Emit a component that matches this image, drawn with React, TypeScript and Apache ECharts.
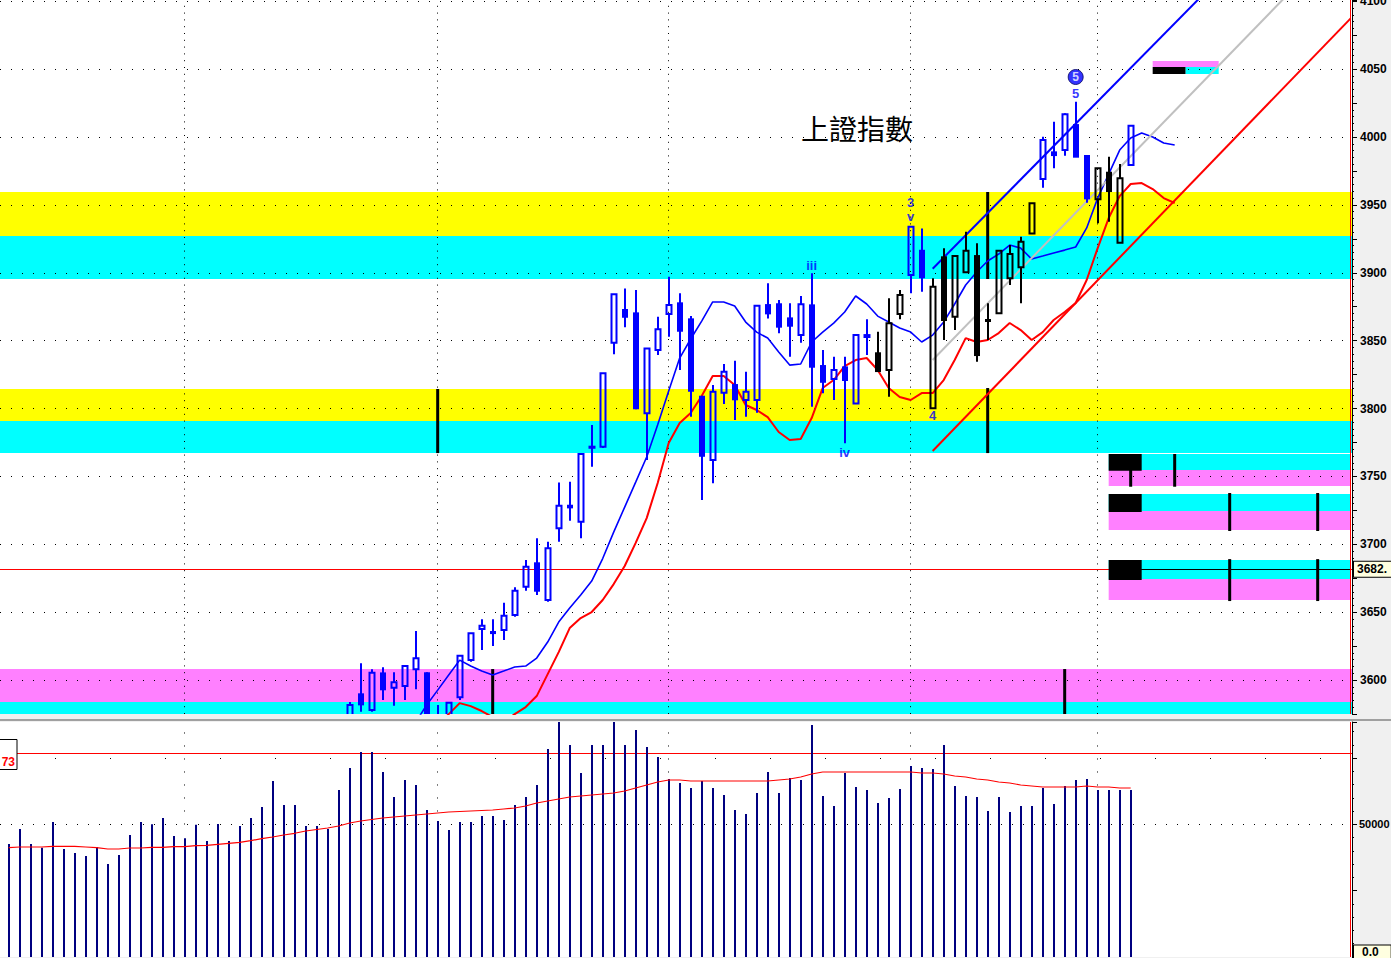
import React, { useEffect, useRef } from 'react';
import * as echarts from 'echarts';

// ---- axis ranges ----
const X_MIN = -0.79;
const X_MAX = 122.12;
const P_MIN = 3575;
const P_MAX = 4100.92;
const V_MAX = 88679;

// ---- price candles (bars 31..102) ----
const CANDLE_START = 31;
const opens = [3566, 3589.5, 3577.9, 3604.9, 3594.3, 3595.6, 3607.9, 3605.0, 3562.0, 3568.0, 3587.3, 3614.7, 3637.6, 3635.4, 3636.8, 3647.9, 3668.7, 3686.0, 3658.9, 3711.8, 3728.4, 3716.6, 3771.1, 3771.9, 3848.5, 3872.6, 3870.1, 3796.5, 3843.1, 3869.6, 3877.5, 3865.7, 3808.7, 3762.1, 3811.6, 3817.3, 3806.3, 3806.3, 3876.2, 3876.8, 3866.4, 3854.1, 3876.0, 3831.3, 3821.7, 3830.3, 3803.8, 3852.7, 3840.7, 3828.4, 3869.6, 3898.3, 3916.2, 3800.2, 3911.4, 3867.6, 3900.3, 3912.3, 3865.2, 3870.1, 3895.9, 3904.0, 3929.0, 3969.0, 3988.7, 3990.4, 4008.8, 3986.0, 3954.1, 3973.7, 3922.1, 3979.4];
const closes = [3581.6, 3582.1, 3605.4, 3593.2, 3598.3, 3610.3, 3616.0, 3565.0, 3570.0, 3583.3, 3617.9, 3634.4, 3640.0, 3634.6, 3647.4, 3665.8, 3683.5, 3665.8, 3697.0, 3728.4, 3727.2, 3766.5, 3771.9, 3825.9, 3884.1, 3867.6, 3800.2, 3844.3, 3858.4, 3876.2, 3857.3, 3813.1, 3765.2, 3812.4, 3827.1, 3806.8, 3812.4, 3875.7, 3870.1, 3860.3, 3861.0, 3876.8, 3830.8, 3819.7, 3828.4, 3821.0, 3854.1, 3854.1, 3827.6, 3862.8, 3883.6, 3933.9, 3896.7, 3889.7, 3865.2, 3912.3, 3916.2, 3839.4, 3864.5, 3916.2, 3913.8, 3922.9, 3951.2, 3997.8, 3986.7, 4016.7, 3985.5, 3954.8, 3976.9, 3960.2, 3969.6, 4008.3];
const lows = [3560, 3576.7, 3576.7, 3585.3, 3581.1, 3585.3, 3593.2, 3555.0, 3555.0, 3560.0, 3585.3, 3613.5, 3622.1, 3625.0, 3629.5, 3646.7, 3665.8, 3662.6, 3657.7, 3701.9, 3717.4, 3704.4, 3757.2, 3770.9, 3839.9, 3859.8, 3799.4, 3762.1, 3839.4, 3852.9, 3828.4, 3794.0, 3732.6, 3744.9, 3803.3, 3791.5, 3794.0, 3796.9, 3866.4, 3855.4, 3838.2, 3848.5, 3801.3, 3811.2, 3806.3, 3774.4, 3803.6, 3839.4, 3827.1, 3808.7, 3865.7, 3884.9, 3886.0, 3800.0, 3850.5, 3857.8, 3899.8, 3834.5, 3850.5, 3869.6, 3891.0, 3877.5, 3928.5, 3962.6, 3976.9, 3986.2, 3985.3, 3951.6, 3936.4, 3937.6, 3921.9, 3979.0];
const highs = [3583.8, 3612.3, 3607.9, 3609.4, 3605.7, 3611.0, 3636.1, 3605.7, 3581.6, 3583.8, 3618.4, 3634.6, 3644.7, 3644.7, 3656.9, 3668.3, 3688.4, 3704.4, 3701.9, 3745.6, 3746.1, 3767.0, 3787.9, 3826.2, 3884.3, 3888.5, 3887.3, 3844.6, 3867.6, 3897.1, 3884.9, 3868.1, 3809.2, 3817.3, 3832.8, 3835.2, 3827.1, 3876.2, 3892.2, 3879.9, 3877.5, 3882.9, 3899.6, 3843.1, 3838.2, 3838.2, 3854.2, 3865.7, 3856.6, 3881.2, 3887.3, 3934.4, 3932.7, 3895.9, 3918.0, 3913.1, 3930.2, 3921.7, 3877.5, 3916.8, 3920.5, 3926.6, 3951.4, 4000.2, 4011.3, 4017.5, 4026.0, 3986.4, 3977.2, 3985.5, 3980.1, 4008.8];
// 0 = blue candle, 1 = black candle
const candleColors = [0, 0, 0, 0, 0, 0, 0, 0, 0, 0, 0, 0, 0, 0, 0, 0, 0, 0, 0, 0, 0, 0, 0, 0, 0, 0, 0, 0, 0, 0, 0, 0, 0, 0, 0, 0, 0, 0, 0, 0, 0, 0, 0, 0, 0, 0, 0, 0, 1, 1, 1, 0, 0, 1, 1, 1, 1, 1, 1, 1, 1, 1, 1, 0, 0, 0, 0, 0, 1, 1, 1, 0];

// ---- moving averages (shifted forward, bars 37..106 and 39..106) ----
const MA_FAST_START = 37;
const maFast = [3569, 3581.6, 3592.6, 3603.7, 3614.7, 3610.3, 3606.6, 3603.7, 3606.6, 3609.6, 3610.3, 3616.2, 3628, 3642.7, 3653, 3662.6, 3672.9, 3689.5, 3709, 3727.4, 3745.8, 3764.3, 3788, 3812.9, 3837.2, 3851.2, 3864.4, 3878.5, 3878.5, 3875.5, 3863.7, 3856.3, 3851.9, 3841.6, 3832, 3832.8, 3849, 3856.3, 3862.9, 3871.1, 3882.9, 3877, 3868.1, 3863.7, 3859.3, 3856.3, 3849, 3854.1, 3863.7, 3877, 3891, 3900.6, 3908.7, 3913.8, 3920.4, 3918.2, 3910.1, 3912.3, 3914.6, 3916.7, 3919, 3933, 3955, 3972.7, 3990.4, 3999.3, 4003, 4000, 3995.6, 3994.1];
const MA_SLOW_START = 39;
const maSlow = [3566.8, 3574.9, 3583, 3580.8, 3577.2, 3572.7, 3569, 3574.9, 3580.1, 3588.2, 3604.4, 3620.6, 3638.3, 3645.7, 3650.1, 3659, 3670.7, 3684, 3701, 3719.3, 3745.1, 3774.6, 3789.3, 3796.7, 3809.2, 3824, 3824, 3817.3, 3802.6, 3798.9, 3793.7, 3782.7, 3776.8, 3777.5, 3793, 3815.1, 3821, 3831.3, 3835.7, 3837.2, 3828.4, 3815.1, 3808.5, 3806.3, 3811.4, 3811.4, 3821, 3835.7, 3851.9, 3849, 3850.5, 3855.6, 3863, 3857.8, 3850.5, 3856.3, 3865.2, 3871.1, 3877.7, 3894.7, 3918.2, 3940.3, 3956.5, 3965.4, 3966.1, 3961.7, 3955, 3951.4];

// ---- volume (bars 0..102) ----
const volumes = [42646, 48307, 42646, 41250, 50949, 40759, 39250, 38117, 41514, 35098, 38494, 46043, 50949, 50081, 52458, 45665, 44797, 49930, 43778, 50194, 43778, 49439, 52458, 56610, 66422, 57365, 57365, 49439, 49439, 48307, 63026, 71329, 77367, 77367, 69819, 60384, 66800, 64913, 55478, 51326, 47930, 50949, 50949, 53213, 53213, 51704, 57365, 60384, 64913, 78499, 88690, 80009, 69442, 80009, 80009, 88690, 80009, 85670, 79254, 75480, 67177, 65668, 63781, 66422, 63781, 61139, 55478, 53968, 61894, 69819, 61894, 67555, 66800, 87557, 60761, 56987, 69442, 64158, 63026, 58120, 60007, 63403, 72083, 71329, 70951, 80009, 64535, 60761, 60384, 55100, 60384, 54723, 56987, 56987, 63781, 57742, 64535, 66800, 67177, 63026, 63026, 63026, 63026];
const volumeMA = [41250, 41514, 41514, 41514, 41778, 41778, 41778, 41514, 41250, 40759, 40759, 41137, 41137, 41400, 41400, 41627, 41627, 42004, 42155, 42533, 42910, 43288, 43891, 44646, 45288, 46043, 46684, 47552, 48118, 48685, 49439, 50571, 51326, 51893, 52459, 52836, 53213, 53591, 53968, 54346, 54723, 54912, 55100, 55289, 55478, 55856, 56233, 56988, 58120, 58874, 59629, 60384, 60761, 61139, 61516, 61894, 62648, 63781, 64913, 66045, 66800, 66800, 66422, 66422, 66422, 66422, 66422, 66422, 66422, 66422, 66800, 67177, 67932, 69064, 69819, 69819, 69819, 69819, 69819, 69819, 69819, 69819, 69819, 69442, 69442, 69064, 68309, 67932, 67177, 66800, 66045, 65668, 64913, 64535, 64158, 64158, 64158, 64158, 64535, 64158, 64158, 63781, 63781];
const volumeLevel = 76900;
const volumeLevelLabel = '73';
const volumeTicks = [0, 25000, 50000, 75000];
const lastVolumeLabel = '0.0';
const lastVolumeLabelAt = 1900;

// ---- grid / annotation data ----
const priceGridLevels = [3600, 3650, 3700, 3750, 3800, 3850, 3900, 3950, 4000, 4050, 4100];
const monthBars = [16, 39, 60, 82, 99];
const lastPrice = 3681.7;
const lastPriceLabel = '3682.';
const cursorBar = 122;
const BAND_COLORS = ['#ffff00', '#00ffff', '#ff80ff', '#000000'];
// [priceFrom, priceTo, barFrom, barTo, colorIndex]
const bands = [
  [3959.5, 3927.1, X_MIN, X_MAX, 0],
  [3927.1, 3895.4, X_MIN, X_MAX, 1],
  [3814.4, 3790.8, X_MIN, X_MAX, 0],
  [3790.8, 3767.2, X_MIN, X_MAX, 1],
  [3608.1, 3583.8, X_MIN, X_MAX, 2],
  [3583.8, 3560.0, X_MIN, X_MAX, 1],
  [3766.5, 3754.7, 100, cursorBar, 1],
  [3754.7, 3742.9, 100, cursorBar, 2],
  [3766.5, 3754.2, 100, 103, 3],
  [3737.0, 3724.5, 100, cursorBar, 1],
  [3724.5, 3710.5, 100, cursorBar, 2],
  [3737.0, 3723.8, 100, 103, 3],
  [3688.4, 3674.4, 100, cursorBar, 1],
  [3674.4, 3658.9, 100, cursorBar, 2],
  [3688.4, 3673.7, 100, 103, 3],
  [4056.0, 4051.6, 104, 110, 2],
  [4051.6, 4046.4, 104, 107, 3],
  [4051.6, 4046.4, 107, 110, 1],
];
// [bar, priceFrom, priceTo]
const markers = [
  [39, 3814.4, 3767.2],
  [44, 3608.1, 3560],
  [89, 3959.5, 3895.4],
  [89, 3815.1, 3767.2],
  [96, 3608.1, 3560],
  [102, 3766.5, 3742.4],
  [106, 3766.5, 3742.4],
  [111, 3737.8, 3709.8],
  [119, 3737.8, 3709.8],
  [111, 3689.1, 3658.2],
  [119, 3689.1, 3658.2],
];
const channelUpper = [[84, 3903], [112, 4133]];
const channelMid = [[84, 3835.8], [120, 4136]];
const channelLower = [[84, 3768.7], [122, 4087.4]];
const waveLabels = [
  { bar: 73, price: 3905.7, text: 'iii' },
  { bar: 76, price: 3767.9, text: 'iv' },
  { bar: 82, price: 3952.1, text: '3' },
  { bar: 82, price: 3941.8, text: 'v' },
  { bar: 84, price: 3795.2, text: '4' },
  { bar: 97, price: 4031.7, text: '5' },
];
const circledWave = { bar: 97, price: 4044.2, text: '5' };

function buildOption() {
  const candleData = opens.map((o, k) => [CANDLE_START + k, o, closes[k], lows[k], highs[k], candleColors[k]]);
  const clampRect = (cs: any, x1: number, y1: number, x2: number, y2: number) => {
    const left = Math.max(Math.min(x1, x2), cs.x);
    const right = Math.min(Math.max(x1, x2), cs.x + cs.width);
    const top = Math.max(Math.min(y1, y2), cs.y);
    const bottom = Math.min(Math.max(y1, y2), cs.y + cs.height);
    return { x: left, y: top, width: Math.max(right - left, 0), height: Math.max(bottom - top, 0) };
  };
  const font = 'Liberation Sans';
  const yAxisBase = {
    type: 'value', position: 'right',
    axisLine: { show: true, onZero: false, lineStyle: { color: '#000', width: 1 } },
    axisTick: { show: true, length: 5, lineStyle: { color: '#000' } },
    minorTick: { show: true, splitNumber: 5, length: 2, lineStyle: { color: '#000' } },
    splitLine: { show: false },
  };
  return {
    animation: false,
    backgroundColor: '#f0f0f0',
    title: {
      text: '上證指數',
      left: 801,
      top: 114,
      padding: 0,
      textStyle: { fontSize: 28, fontWeight: 'normal', color: '#000', fontFamily: 'Noto Sans CJK TC' },
    },
    grid: [
      { left: 0, top: 0, width: 1352, height: 714, show: true, backgroundColor: '#ffffff', borderWidth: 0, containLabel: false, outerBoundsMode: 'none' },
      { left: 0, top: 722, width: 1352, height: 235, show: true, backgroundColor: '#ffffff', borderWidth: 0, containLabel: false, outerBoundsMode: 'none' },
    ],
    xAxis: [
      { type: 'value', gridIndex: 0, min: X_MIN, max: X_MAX, show: false },
      { type: 'value', gridIndex: 1, min: X_MIN, max: X_MAX, show: false },
    ],
    yAxis: [
      {
        ...yAxisBase, gridIndex: 0, min: P_MIN, max: P_MAX, interval: 25,
        axisLabel: {
          margin: 8, color: '#000', fontSize: 12, fontWeight: 'bold', fontFamily: font,
          formatter: (v: number) => (Math.abs(v % 50) < 1e-6 ? String(v) : ''),
        },
      },
      {
        ...yAxisBase, gridIndex: 1, min: 0, max: V_MAX, interval: 25000,
        axisLabel: {
          margin: 7, color: '#000', fontSize: 11, fontWeight: 'bold', fontFamily: font,
          formatter: (v: number) => (v === volumeTicks[2] ? String(v) : ''),
        },
      },
    ],
    graphic: [
      { type: 'rect', z: 100, shape: { x: 0, y: 719, width: 1391, height: 2 }, style: { fill: '#a0a0a0' } },
      { type: 'rect', z: 100, shape: { x: -2, y: 739.5, width: 19, height: 30 }, style: { fill: '#ffffff', stroke: '#000', lineWidth: 1 } },
      { type: 'text', z: 101, x: 15, y: 762, style: { text: volumeLevelLabel, align: 'right', verticalAlign: 'middle', fill: '#ff0000', font: 'bold 12px "Liberation Sans"' } },
    ],
    series: [
      // dotted price grid + month lines
      {
        type: 'line', xAxisIndex: 0, yAxisIndex: 0, data: [], z: 1, silent: true,
        markLine: {
          silent: true, symbol: ['none', 'none'], animation: false, label: { show: false },
          lineStyle: { color: '#000', width: 1, type: [1, 10] },
          data: [
            ...priceGridLevels.map((p) => ({ yAxis: p })),
            ...monthBars.map((b) => ({ xAxis: b, lineStyle: { color: '#000', width: 1, type: [1, 5.8] } })),
          ],
        },
      },
      // colour bands and boxes
      {
        type: 'custom', xAxisIndex: 0, yAxisIndex: 0, z: 2, silent: true, data: bands,
        renderItem: (params: any, api: any) => {
          const cs = params.coordSys;
          const p1 = api.coord([api.value(2), api.value(0)]);
          const p2 = api.coord([api.value(3), api.value(1)]);
          return { type: 'rect', shape: clampRect(cs, p1[0], p1[1], p2[0], p2[1]), style: { fill: BAND_COLORS[api.value(4)] } };
        },
      },
      // black time markers + price line
      {
        type: 'custom', xAxisIndex: 0, yAxisIndex: 0, z: 3, silent: true, data: markers,
        renderItem: (params: any, api: any) => {
          const cs = params.coordSys;
          const p1 = api.coord([api.value(0), api.value(1)]);
          const p2 = api.coord([api.value(0), api.value(2)]);
          return { type: 'rect', shape: clampRect(cs, p1[0] - 1.5, p1[1], p1[0] + 1.5, p2[1]), style: { fill: '#000' } };
        },
        markLine: {
          silent: true, symbol: ['none', 'none'], animation: false,
          data: [
            {
              yAxis: lastPrice, lineStyle: { color: '#ff0000', width: 1, type: 'solid' },
              label: {
                show: true, position: 'end', distance: 2, formatter: lastPriceLabel, color: '#000',
                fontSize: 12, fontWeight: 'bold', fontFamily: font, backgroundColor: '#ffffe0',
                borderColor: '#000', borderWidth: 1, padding: [2, 8, 1, 3],
              },
            },
            [
              { coord: [100, lastPrice], lineStyle: { color: '#000', width: 1, type: 'solid' }, label: { show: false } },
              { coord: [cursorBar, lastPrice] },
            ],
            { xAxis: cursorBar, lineStyle: { color: '#ff0000', width: 1, type: 'solid' }, label: { show: false } },
          ],
        },
      },
      // moving averages
      {
        type: 'line', xAxisIndex: 0, yAxisIndex: 0, z: 5, symbol: 'none', silent: true,
        data: maFast.map((v, k) => [MA_FAST_START + k, v]),
        lineStyle: { color: '#0000ff', width: 1.6 },
      },
      {
        type: 'line', xAxisIndex: 0, yAxisIndex: 0, z: 5, symbol: 'none', silent: true,
        data: maSlow.map((v, k) => [MA_SLOW_START + k, v]),
        lineStyle: { color: '#ff0000', width: 2 },
      },
      // channel
      {
        type: 'line', xAxisIndex: 0, yAxisIndex: 0, z: 6, symbol: 'none', silent: true,
        data: channelMid, lineStyle: { color: '#c0c0c0', width: 2 },
      },
      {
        type: 'line', xAxisIndex: 0, yAxisIndex: 0, z: 6, symbol: 'none', silent: true,
        data: channelUpper, lineStyle: { color: '#0000ff', width: 2 },
      },
      {
        type: 'line', xAxisIndex: 0, yAxisIndex: 0, z: 6, symbol: 'none', silent: true,
        data: channelLower, lineStyle: { color: '#ff0000', width: 2 },
      },
      // candles
      {
        type: 'custom', xAxisIndex: 0, yAxisIndex: 0, z: 10, silent: true, clip: true, data: candleData,
        renderItem: (params: any, api: any) => {
          const x = api.value(0);
          const o = api.value(1), c = api.value(2), l = api.value(3), h = api.value(4);
          const col = api.value(5) === 1 ? '#000000' : '#0000ff';
          const pO = api.coord([x, o]);
          const px = Math.round(pO[0]);
          const yO = pO[1];
          const yC = api.coord([x, c])[1];
          const yL = api.coord([x, l])[1];
          const yH = api.coord([x, h])[1];
          const top = Math.min(yO, yC);
          const bot = Math.max(yO, yC);
          const children: any[] = [
            { type: 'line', shape: { x1: px, y1: yH, x2: px, y2: top }, style: { stroke: col, lineWidth: 2 } },
            { type: 'line', shape: { x1: px, y1: bot, x2: px, y2: yL }, style: { stroke: col, lineWidth: 2 } },
          ];
          if (c > o) {
            children.push({ type: 'rect', shape: { x: px - 2.5, y: top, width: 5, height: Math.max(bot - top, 1) }, style: { fill: 'none', stroke: col, lineWidth: 2 } });
          } else {
            children.push({ type: 'rect', shape: { x: px - 3, y: top - 1, width: 6, height: Math.max(bot - top, 1) + 2 }, style: { fill: col } });
          }
          return { type: 'group', children };
        },
      },
      // wave labels
      {
        type: 'scatter', xAxisIndex: 0, yAxisIndex: 0, z: 11, silent: true, symbolSize: 1,
        itemStyle: { color: 'rgba(0,0,0,0)' },
        data: waveLabels.map((w) => ({ value: [w.bar, w.price], label: { formatter: w.text } })),
        label: { show: true, position: 'inside', color: '#0000ff', fontSize: 13, fontWeight: 'bold', fontFamily: font },
      },
      {
        type: 'scatter', xAxisIndex: 0, yAxisIndex: 0, z: 11, silent: true, symbol: 'circle', symbolSize: 15,
        itemStyle: { color: '#0000ff', borderColor: '#000060', borderWidth: 1 },
        data: [{ value: [circledWave.bar, circledWave.price] }],
        label: { show: true, position: 'inside', formatter: circledWave.text, color: '#ffffff', fontSize: 12, fontWeight: 'bold', fontFamily: font },
      },
      // volume bars
      {
        type: 'custom', xAxisIndex: 1, yAxisIndex: 1, z: 5, silent: true, clip: true,
        data: volumes.map((v, i) => [i, v]),
        renderItem: (params: any, api: any) => {
          const cs = params.coordSys;
          const p0 = api.coord([api.value(0), 0]);
          const p1 = api.coord([api.value(0), api.value(1)]);
          const px = Math.round(p0[0]);
          return { type: 'rect', shape: clampRect(cs, px - 1, p1[1], px + 1, p0[1]), style: { fill: '#000080' } };
        },
      },
      {
        type: 'line', xAxisIndex: 1, yAxisIndex: 1, z: 6, symbol: 'none', silent: true,
        data: volumeMA.map((v, i) => [i, v]),
        lineStyle: { color: '#ff0000', width: 1.2 },
      },
      {
        type: 'line', xAxisIndex: 1, yAxisIndex: 1, data: [], z: 4, silent: true,
        markLine: {
          silent: true, symbol: ['none', 'none'], animation: false, label: { show: false },
          data: [
            { yAxis: volumeTicks[2], lineStyle: { color: '#000', width: 1, type: [1, 10] } },
            { yAxis: volumeTicks[3], lineStyle: { color: '#000', width: 1, type: [1, 54] } },
            ...monthBars.map((b) => [
              { coord: [b, volumeTicks[2]], lineStyle: { color: '#000', width: 1, type: [1, 12] } },
              { coord: [b, V_MAX] },
            ]),
            { yAxis: volumeLevel, lineStyle: { color: '#ff0000', width: 1, type: 'solid' } },
            { xAxis: cursorBar, lineStyle: { color: '#ff0000', width: 1, type: 'solid' } },
            {
              yAxis: lastVolumeLabelAt, lineStyle: { width: 1, color: 'rgba(0,0,0,0)' },
              label: {
                show: true, position: 'end', distance: 2, formatter: lastVolumeLabel, color: '#000', fontSize: 12,
                fontWeight: 'bold', fontFamily: font, backgroundColor: '#ffffe0', borderColor: '#000',
                borderWidth: 1, padding: [1, 12, 0, 8],
              },
            },
          ],
        },
      },
    ],
  };
}

export default function App() {
  const ref = useRef<HTMLDivElement>(null);
  useEffect(() => {
    if (!ref.current) return;
    const chart = echarts.init(ref.current, null, { renderer: 'svg' });
    chart.setOption(buildOption() as any);
    return () => chart.dispose();
  }, []);
  return <div ref={ref} style={{ position: 'absolute', left: 0, top: 0, width: 1391, height: 958 }} />;
}
